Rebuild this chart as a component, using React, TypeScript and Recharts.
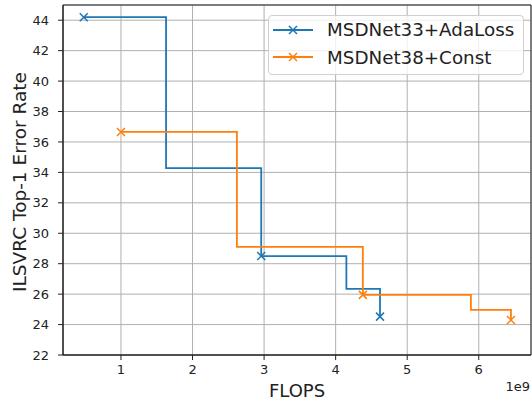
import { LineChart, Line, XAxis, YAxis, CartesianGrid, ReferenceArea, Legend } from "recharts";

// FLOPS are in units of 1e9
const adaFlops = [0.48, 1.63, 2.96, 4.15, 4.62];
const adaError = [44.2, 34.28, 28.5, 26.34, 24.52];
const constFlops = [1.0, 2.62, 4.38, 5.89, 6.45];
const constError = [36.66, 29.1, 25.95, 24.96, 24.3];

const seriesNames = ["MSDNet33+AdaLoss", "MSDNet38+Const"];
const seriesColors = ["#1f77b4", "#ff7f0e"];

const xTicks = [1, 2, 3, 4, 5, 6];
const yTicks = [22, 24, 26, 28, 30, 32, 34, 36, 38, 40, 42, 44];
const xDomain = [0.19, 6.73];
const yDomain = [22, 45];
const markEvery = 2;

const adaData = adaFlops.map((x, i) => ({ x, y: adaError[i] }));
const constData = constFlops.map((x, i) => ({ x, y: constError[i] }));

const FONT = "DejaVu Sans, sans-serif";

function crossDot(color: string) {
  return (props: any) => {
    const { cx, cy, index } = props;
    if (index % markEvery !== 0 || cx == null) return <g key={`d${index}`} />;
    const s = 4;
    return (
      <path
        key={`d${index}`}
        d={`M${cx - s},${cy - s}L${cx + s},${cy + s}M${cx - s},${cy + s}L${cx + s},${cy - s}`}
        stroke={color}
        strokeWidth={1.5}
        fill="none"
      />
    );
  };
}

function LegendBox() {
  return (
    <div
      style={{
        border: "1px solid #d0d0d0",
        borderRadius: 4,
        background: "rgba(255,255,255,0.8)",
        padding: "0px 8px 3px 4px",
        fontFamily: FONT,
        fontSize: 18.3,
        color: "#222",
      }}
    >
      {seriesNames.map((name, i) => (
        <div key={name} style={{ display: "flex", alignItems: "center", height: 27.5 }}>
          <svg width={40} height={12} style={{ marginRight: 14 }}>
            <line x1={0} y1={6} x2={40} y2={6} stroke={seriesColors[i]} strokeWidth={1.8} />
            <path d="M16,2L24,10M16,10L24,2" stroke={seriesColors[i]} strokeWidth={1.5} />
          </svg>
          <span>{name}</span>
        </div>
      ))}
    </div>
  );
}

export default function App() {
  return (
    <div style={{ position: "absolute", left: 0, top: 0, width: 532, height: 402, background: "#fff" }}>
      <LineChart width={532} height={402} margin={{ top: 5, right: 1, left: 0, bottom: 0 }}>
        <CartesianGrid stroke="#b0b0b0" strokeWidth={1} />
        <XAxis
          dataKey="x"
          type="number"
          domain={xDomain}
          ticks={xTicks}
          allowDataOverflow
          height={47}
          tickSize={5}
          tickMargin={5}
          stroke="#222"
          tick={{ fill: "#222", fontSize: 13, fontFamily: FONT }}
          label={{
            content: () => (
              <g>
                <text x={297} y={397} textAnchor="middle" fontSize={18} fontFamily={FONT} fill="#222">
                  FLOPS
                </text>
                <text x={530} y={391} textAnchor="end" fontSize={13} fontFamily={FONT} fill="#222">
                  1e9
                </text>
              </g>
            ),
          }}
        />
        <YAxis
          type="number"
          domain={yDomain}
          ticks={yTicks}
          allowDataOverflow
          width={63}
          tickSize={5}
          tickMargin={9}
          stroke="#222"
          tick={{ fill: "#222", fontSize: 13, fontFamily: FONT }}
          label={{
            content: () => (
              <text
                x={26}
                y={182}
                transform="rotate(-90, 26, 182)"
                textAnchor="middle"
                fontSize={18.5}
                fontFamily={FONT}
                fill="#222"
              >
                ILSVRC Top-1 Error Rate
              </text>
            ),
          }}
        />
        <ReferenceArea
          x1={xDomain[0]}
          x2={xDomain[1]}
          y1={yDomain[0]}
          y2={yDomain[1]}
          fill="none"
          stroke="#222"
          strokeWidth={1}
        />
        <Line
          data={adaData}
          dataKey="y"
          name={seriesNames[0]}
          type="stepAfter"
          stroke={seriesColors[0]}
          strokeWidth={1.8}
          dot={crossDot(seriesColors[0])}
          activeDot={false}
          isAnimationActive={false}
        />
        <Line
          data={constData}
          dataKey="y"
          name={seriesNames[1]}
          type="stepAfter"
          stroke={seriesColors[1]}
          strokeWidth={1.8}
          dot={crossDot(seriesColors[1])}
          activeDot={false}
          isAnimationActive={false}
        />
        <Legend
          layout="horizontal"
          verticalAlign="middle"
          align="center"
          wrapperStyle={{ left: 268, top: 15, width: 256, right: "auto", bottom: "auto" }}
          content={() => <LegendBox />}
        />
      </LineChart>
    </div>
  );
}
